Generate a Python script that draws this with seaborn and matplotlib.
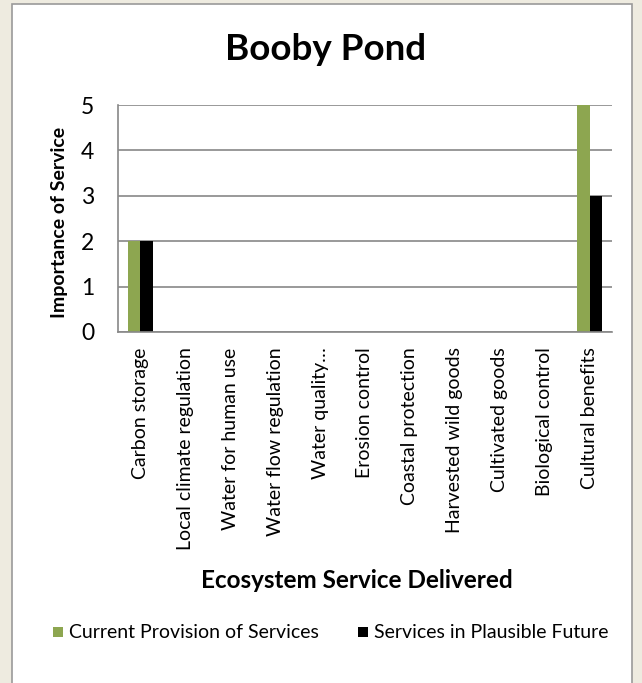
import pandas as pd
import numpy as np
import matplotlib
matplotlib.use("Agg")
import matplotlib.pyplot as plt
from matplotlib.patches import Rectangle
import seaborn as sns

# chart values
services = ["Carbon storage", "Local climate regulation", "Water for human use",
            "Water flow regulation", "Water quality…", "Erosion control",
            "Coastal protection", "Harvested wild goods", "Cultivated goods",
            "Biological control", "Cultural benefits"]
current = [2, 0, 0, 0, 0, 0, 0, 0, 0, 0, 5]
future = [2, 0, 0, 0, 0, 0, 0, 0, 0, 0, 3]
series_names = ["Current Provision of Services", "Services in Plausible Future"]
colors = ["#8DA650", "#000000"]

sns.set_style("white")
plt.rcParams["font.family"] = ["Lato", "DejaVu Sans"]
plt.rcParams["text.color"] = "black"
plt.rcParams["xtick.color"] = "black"
plt.rcParams["ytick.color"] = "black"
plt.rcParams["axes.labelcolor"] = "black"

ds = pd.DataFrame({
    "service": services * 2,
    "value": current + future,
    "series": [series_names[0]] * len(services) + [series_names[1]] * len(services),
})

W, H = 642, 683
fig = plt.figure(figsize=(W / 100, H / 100), dpi=100, facecolor="#EEEBE0")
fig.patches.append(Rectangle((12 / W, -0.01), 620 / W, 1 - 4 / H + 0.01, transform=fig.transFigure,
                             facecolor="white", edgecolor="#9A9A9A", linewidth=1.2, zorder=-5))

ax = fig.add_axes([118 / W, 1 - 332 / H, 494 / W, 227 / H])
ax.set_zorder(2)
sns.barplot(data=ds, x="service", y="value", hue="series", palette=colors,
            width=0.56, gap=0, ax=ax, legend=False, saturation=1, linewidth=0)

ax.set_ylim(0, 5)
ax.set_xlim(-0.5, len(services) - 0.5)
ax.set_yticks(range(6))
ax.yaxis.grid(True, color="#888888", linewidth=1.2)
ax.set_axisbelow(True)
for side in ["top", "right"]:
    ax.spines[side].set_visible(False)
for side in ["left", "bottom"]:
    ax.spines[side].set_color("#888888")
    ax.spines[side].set_linewidth(1.2)

ax.set_xticks(np.arange(len(services)))
ax.set_xticklabels(services, rotation=90, va="top", ha="center", fontsize=14)
ax.set_xticks(np.arange(len(services) + 1) - 0.5, minor=True)
ax.tick_params(axis="x", which="major", length=0, pad=11)
ax.tick_params(axis="x", which="minor", length=6, width=1.2, color="#888888", direction="out")
ax.tick_params(axis="y", length=7.2, width=1.2, color="#888888", labelcolor="black",
               direction="out", labelsize=16.5, pad=10)

ax.set_xlabel("")
ax.set_ylabel("")
fig.text(60 / W, 1 - 222 / H, "Importance of Service", ha="center", va="center",
         rotation=90, fontsize=14, fontweight="bold")
fig.text(357 / W, 1 - 580 / H, "Ecosystem Service Delivered", ha="center", va="center",
         fontsize=17.5, fontweight="bold")
fig.text(326 / W, 1 - 50 / H, "Booby Pond", ha="center", va="center",
         fontsize=26.5, fontweight="bold")

# legend
for i, (name, c) in enumerate(zip(series_names, colors)):
    x0 = [53, 358][i]
    fig.patches.append(Rectangle((x0 / W, 1 - 637 / H), 10 / W, 10 / H, transform=fig.transFigure,
                                 facecolor=c, edgecolor="none"))
    fig.text((x0 + 16) / W, 1 - 632 / H, name, ha="left", va="center", fontsize=14)

plt.savefig("out.png", dpi=100, facecolor=fig.get_facecolor())
